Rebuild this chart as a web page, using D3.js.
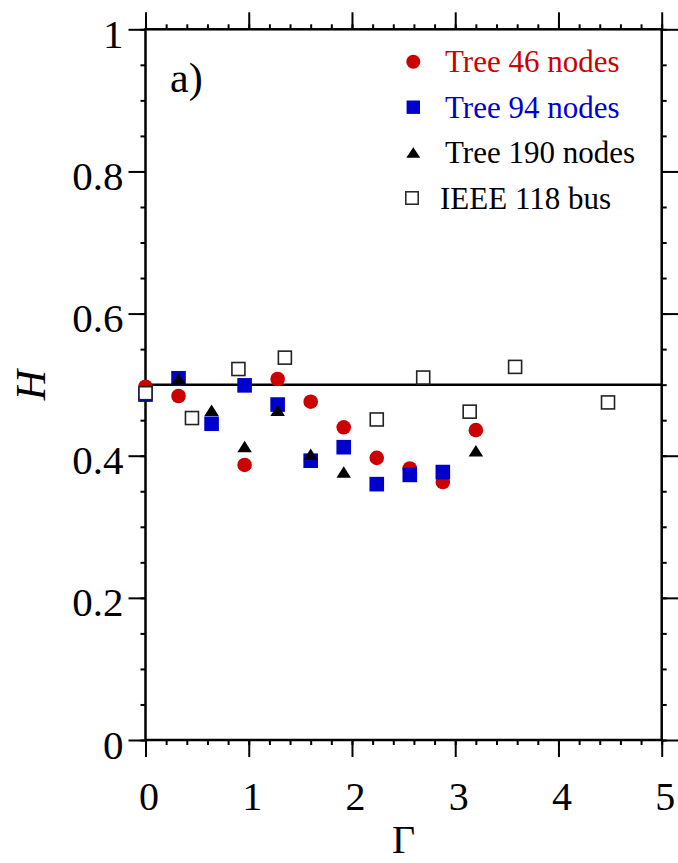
<!DOCTYPE html>
<html>
<head>
<meta charset="utf-8">
<script src="https://cdn.jsdelivr.net/npm/d3@7"></script>
<style>
  body { margin: 0; background: #fff; }
  svg { display: block; font-family: "Liberation Serif", "Times New Roman", serif; }
</style>
</head>
<body>
<svg id="chart" width="678" height="863"></svg>
<script>
// data
const xTicks = [0, 1, 2, 3, 4, 5];
const yTicks = [0, 0.2, 0.4, 0.6, 0.8, 1];
const yTickLabels = ["0", "0.2", "0.4", "0.6", "0.8", "1"];

const gamma46 = [0, 0.32, 0.64, 0.96, 1.28, 1.60, 1.92, 2.24, 2.56, 2.88, 3.20];
const h46     = [0.497, 0.484, null, 0.387, 0.508, 0.476, 0.440, 0.397, 0.382, 0.363, 0.436];

const gamma94 = [0, 0.32, 0.64, 0.96, 1.28, 1.60, 1.92, 2.24, 2.56, 2.88];
const h94     = [0.486, 0.509, 0.445, 0.499, 0.472, 0.393, 0.412, 0.360, 0.373, 0.377];

const gamma190 = [0, 0.32, 0.64, 0.96, 1.28, 1.60, 1.92, 3.20];
const h190     = [0.488, 0.508, 0.464, 0.413, 0.464, 0.402, 0.377, 0.407];

const gammaIEEE = [0, 0.45, 0.90, 1.35, 2.24, 2.69, 3.14, 3.58, 4.48];
const hIEEE     = [0.488, 0.453, 0.522, 0.538, 0.451, 0.510, 0.462, 0.525, 0.475];

const refH = 0.5;

const seriesNames = ["Tree 46 nodes", "Tree 94 nodes", "Tree 190 nodes", "IEEE 118 bus"];

const svg = d3.select("#chart");
const x = d3.scaleLinear().domain([0, 5]).range([145.5, 661.7]);
const y = d3.scaleLinear().domain([0, 1]).range([740, 29.3]);

const red = "#cc0000", blue = "#0000cc";

// minor / major ticks on all four sides, all pointing outward
function ticks(axis, values, size, tr) {
  const g = svg.append("g").attr("transform", tr)
    .call(axis.tickValues(values).tickSize(size).tickSizeOuter(0).tickFormat(""));
  g.select(".domain").remove();
  g.selectAll(".tick line").attr("stroke", "#000").attr("stroke-width", 2);
  return g;
}
const xMinor = d3.range(0, 26).map(i => i * 0.2);
const yMinor = d3.range(0, 21).map(i => i * 0.05);

ticks(d3.axisBottom(x), xMinor, 5, `translate(0,${y(0)})`);
ticks(d3.axisTop(x), xMinor, 5, `translate(0,${y(1)})`);
ticks(d3.axisLeft(y), yMinor, 5, `translate(${x(0)},0)`);
ticks(d3.axisRight(y), yMinor, 5, `translate(${x(5)},0)`);
ticks(d3.axisTop(x), xTicks, 17, `translate(0,${y(1)})`);
ticks(d3.axisRight(y), yTicks, 17, `translate(${x(5)},0)`);

const gx = ticks(d3.axisBottom(x), xTicks, 17, `translate(0,${y(0)})`);
gx.selectAll(".tick text")
  .text(d => d)
  .attr("y", 70).attr("dy", null).attr("dx", 3)
  .attr("font-size", 40).attr("font-family", "Liberation Serif").attr("fill", "#000");

const gy = ticks(d3.axisLeft(y), yTicks, 17, `translate(${x(0)},0)`);
gy.selectAll(".tick text")
  .text((d, i) => yTickLabels[i])
  .attr("x", -22).attr("dy", 18)
  .attr("font-size", 41).attr("font-family", "Liberation Serif").attr("fill", "#000");

// frame
svg.append("rect")
  .attr("x", x(0)).attr("y", y(1))
  .attr("width", x(5) - x(0)).attr("height", y(0) - y(1))
  .attr("fill", "none").attr("stroke", "#000").attr("stroke-width", 2.5);

// reference line H = 0.5
svg.append("line")
  .attr("x1", x(0)).attr("x2", x(5))
  .attr("y1", y(refH)).attr("y2", y(refH))
  .attr("stroke", "#000").attr("stroke-width", 2.5);

// axis titles
svg.append("text")
  .attr("transform", "translate(45,385) rotate(-90)")
  .attr("text-anchor", "middle").attr("font-size", 42).attr("font-style", "italic")
  .text("H");
svg.append("text")
  .attr("x", (x(0) + x(5)) / 2).attr("y", 853)
  .attr("text-anchor", "middle").attr("font-size", 40)
  .text("Γ");
svg.append("text")
  .attr("x", 170).attr("y", 92).attr("font-size", 42)
  .text("a)");

// markers
const tri = (w, h) => `M0,${-h / 2}L${w / 2},${h / 2}L${-w / 2},${h / 2}Z`;
const pts = (gs, hs) => gs.map((g, i) => ({ g, h: hs[i] })).filter(d => d.h != null);

const markers = [
  { draw: sel => sel.append("circle").attr("r", 7.3).attr("fill", red) },
  { draw: sel => sel.append("rect").attr("x", -7.3).attr("y", -7.3).attr("width", 14.6).attr("height", 14.6).attr("fill", blue) },
  { draw: sel => sel.append("path").attr("d", tri(14.5, 11.5)).attr("fill", "#000") },
  { draw: sel => sel.append("rect").attr("x", -6.5).attr("y", -6.5).attr("width", 13).attr("height", 13)
      .attr("fill", "#fff").attr("stroke", "#222").attr("stroke-width", 1.6) }
];

const data = [pts(gamma46, h46), pts(gamma94, h94), pts(gamma190, h190), pts(gammaIEEE, hIEEE)];

data.forEach((ds, k) => {
  const g = svg.append("g").selectAll("g").data(ds).join("g")
    .attr("transform", d => `translate(${x(d.g)},${y(d.h)})`);
  markers[k].draw(g);
});

// legend
const legendColors = [red, blue, "#000", "#000"];
const leg = svg.append("g").selectAll("g").data(seriesNames).join("g")
  .attr("transform", (d, i) => `translate(0,${72.3 + i * 45.4})`);
leg.each(function (d, i) {
  const row = d3.select(this);
  const m = row.append("g").attr("transform", `translate(${i === 3 ? 412 : 413.3},-10.5)`);
  if (i === 0) m.append("circle").attr("r", 7).attr("fill", red);
  if (i === 1) m.append("rect").attr("x", -6.7).attr("y", -6.7).attr("width", 13.4).attr("height", 13.4).attr("fill", blue);
  if (i === 2) m.append("path").attr("d", tri(14, 10.5)).attr("fill", "#000");
  if (i === 3) m.append("rect").attr("x", -6.2).attr("y", -6.2).attr("width", 12.4).attr("height", 12.4)
      .attr("fill", "#fff").attr("stroke", "#222").attr("stroke-width", 1.5);
  row.append("text")
    .attr("x", i === 3 ? 440 : 445).attr("y", 0)
    .attr("font-size", 31).attr("fill", legendColors[i])
    .text(d);
});
</script>
</body>
</html>
